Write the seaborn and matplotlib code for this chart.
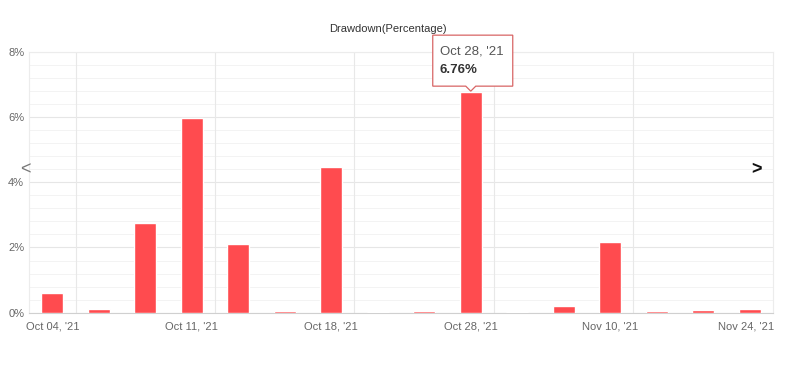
import numpy as np
import pandas as pd
import matplotlib
matplotlib.use("Agg")
import matplotlib.pyplot as plt
import matplotlib.transforms as mtransforms
from matplotlib.patches import Polygon
import seaborn as sns

# dados (drawdown em %)
datas = ["Oct 04, '21", "Oct 06, '21", "Oct 08, '21", "Oct 11, '21", "Oct 13, '21",
         "Oct 15, '21", "Oct 18, '21", "Oct 21, '21", "Oct 25, '21", "Oct 28, '21",
         "Nov 02, '21", "Nov 05, '21", "Nov 10, '21", "Nov 15, '21", "Nov 19, '21",
         "Nov 24, '21"]
drawdown = [0.59, 0.12, 2.76, 5.97, 2.11, 0.06, 4.48, 0.03,
            0.06, 6.76, 0.03, 0.20, 2.16, 0.06, 0.09, 0.12]
ticks_y = [0, 2, 4, 6, 8]
destaque = 9  # barra com tooltip

df = pd.DataFrame({"data": datas, "dd": drawdown})

sns.set_theme(style="white")
plt.rcParams["font.family"] = ["Liberation Sans", "DejaVu Sans"]

fig = plt.figure(figsize=(7.89, 3.70), dpi=100)
ax = fig.add_axes([29 / 789, 57.3 / 370, 744 / 789, 261 / 370])

sns.barplot(data=df, x="data", y="dd", color="#ff4b4f", saturation=1,
            width=0.48, ax=ax, zorder=3)

ax.set_ylim(0, 8)
ax.set_xlim(-0.5, len(datas) - 0.5)
ax.set_yticks(ticks_y)
ax.set_yticklabels([f"{t}%" for t in ticks_y])
ax.set_yticks(np.arange(0, 8.01, 0.4), minor=True)
ax.grid(axis="y", which="major", color="#e6e6e6", lw=0.8, zorder=0)
ax.grid(axis="y", which="minor", color="#f3f3f3", lw=0.7, zorder=0)
for xv in [0.5, 3.5, 6.5, 9.5, 12.5]:
    ax.axvline(xv, color="#e8e8e8", lw=0.8, zorder=1)

pos = list(range(0, len(datas), 3))
ax.set_xticks(pos)
ax.set_xticklabels([datas[i] for i in pos])
ax.tick_params(axis="both", which="both", length=0, labelsize=8, colors="#666666")
ax.tick_params(axis="x", pad=6)
ax.tick_params(axis="y", pad=3.5)
# último rótulo fica encostado na borda direita
ultimo = ax.get_xticklabels()[-1]
ultimo.set_transform(ultimo.get_transform() +
                     mtransforms.ScaledTranslation(-4 / 100, 0, fig.dpi_scale_trans))
ax.set_xlabel("")
ax.set_ylabel("")
for s in ax.spines.values():
    s.set_color("#ececec")
    s.set_linewidth(0.8)
ax.spines["bottom"].set_color("#d0d0d0")

ax.set_title("Drawdown(Percentage)", fontsize=8, color="#333333", pad=14, x=0.482)

# tooltip da barra destacada (offsets em pixels a partir do topo da barra)
ponto = (destaque, drawdown[destaque])
xy_disp = ax.transData.transform(ponto)
escala = fig.dpi / 100
t_pix = mtransforms.Affine2D().scale(escala).translate(*xy_disp)

caixa = Polygon([(-38, 6), (-38, 57), (42, 57), (42, 6), (5, 6), (0, 1), (-5, 6)],
                closed=True, fc="white", ec="#d86565", lw=0.9, zorder=6,
                transform=t_pix, clip_on=False)
ax.add_patch(caixa)

ax.text(-31, 41, datas[destaque], transform=t_pix, fontsize=9.5,
        color="#555555", ha="left", va="center", zorder=7, clip_on=False)
ax.text(-31, 22, f"{drawdown[destaque]:.2f}%", transform=t_pix, fontsize=9.5,
        color="#333333", fontweight="bold", ha="left", va="center", zorder=7, clip_on=False)

# setas de navegação
fig.text(25 / 789, 1 - 170 / 370, "<", fontsize=13, color="#777777", ha="center", va="center")
fig.text(757 / 789, 1 - 170 / 370, ">", fontsize=13, color="#111111", ha="center",
         va="center", fontweight="bold")

plt.savefig("out.png", dpi=100)
plt.close()
